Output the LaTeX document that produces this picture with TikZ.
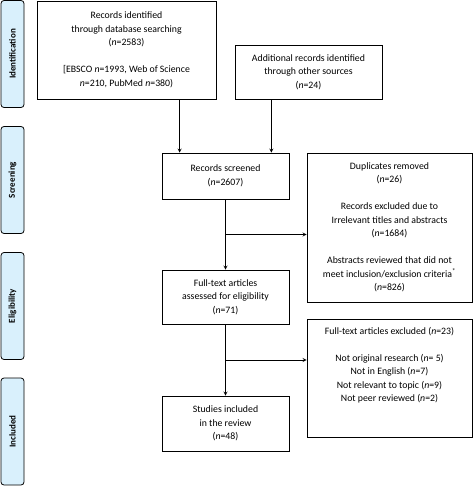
\documentclass[tikz,border=0pt]{standalone}
\usepackage{fontspec}
\setmainfont{Carlito}
\usetikzlibrary{calc}
\definecolor{phasefill}{HTML}{D9F0FC}

\begin{document}
\begin{tikzpicture}[>=stealth, x=1pt, y=-1pt,
        box/.style={draw, line width=0.8pt, align=center, inner sep=2pt, font=\fontsize{9.8}{13.5}\selectfont},
        phase/.style={draw, line width=0.8pt, rounded corners=3pt, fill=phasefill, rotate=90,
            minimum width=107pt, minimum height=23pt, font=\bfseries\fontsize{9}{11}\selectfont},
        line/.style={line width=0.8pt}]
        \useasboundingbox (0,0) rectangle (473,487);    % same frame as the reference

        % phases on the left
        \node[phase] (pid) at (12.5,54) {Identification};
        \node[phase] (psc) at (12.5,180) {Screening};
        \node[phase] (pel) at (12.5,306) {Eligibility};
        \node[phase] (pin) at (12.5,431.5) {Included};

        % boxes
        \node[box, minimum width=179pt, minimum height=98pt] (ident) at (126.5,50) {Records identified\\through database searching\\(\textit{n}=2583)\\[13.5pt][EBSCO \textit{n}=1993, Web of Science\\\textit{n}=210, PubMed \textit{n}=380)};
        \node[box, minimum width=147pt, minimum height=54pt] (other) at (308.5,72) {Additional records identified\\through other sources\\(\textit{n}=24)};
        \node[box, minimum width=127pt, minimum height=46pt] (screen) at (225.5,176) {Records screened\\(\textit{n}=2607)};
        \node[box, minimum width=165pt, minimum height=149pt] (dup) at (389.5,227.5) {Duplicates removed\\(\textit{n}=26)\\[13.5pt]Records excluded due to\\Irrelevant titles and abstracts\\(\textit{n}=1684)\\[13.5pt]Abstracts reviewed that did not\\meet inclusion/exclusion criteria\textsuperscript{*}\\(\textit{n}=826)};
        \node[box, minimum width=127pt, minimum height=54pt] (full) at (225.5,297) {Full-text articles\\assessed for eligibility\\(\textit{n}=71)};
        \node[box, minimum width=165pt, minimum height=118pt] (excl) at (389.5,378) {Full-text articles excluded (\textit{n}=23)\\[13.5pt]Not original research (\textit{n}= 5)\\Not in English (\textit{n}=7)\\Not relevant to topic (\textit{n}=9)\\Not peer reviewed (\textit{n}=2)\\[13.5pt]~};
        \node[box, minimum width=127pt, minimum height=55pt] (incl) at (225.5,423.5) {Studies included\\in the review\\(\textit{n}=48)};

        % arrows
        \coordinate (in1) at ($(screen.north west)+(18,0)$);
        \coordinate (in2) at ($(screen.north east)+(-18,0)$);
        \draw[line,->] (ident.south -| in1) -- (in1);
        \draw[line,->] (other.south -| in2) -- (in2);
        \draw[line,->] (screen) -- (full);
        \coordinate (j1) at ($(screen.south)!0.5!(full.north)$);
        \draw[line,->] (j1) -- (j1 -| dup.west);
        \draw[line,->] (full) -- (incl);
        \coordinate (j2) at ($(full.south)!0.5!(incl.north)$);
        \draw[line,->] (j2) -- (j2 -| excl.west);
    \end{tikzpicture}
\end{document}
